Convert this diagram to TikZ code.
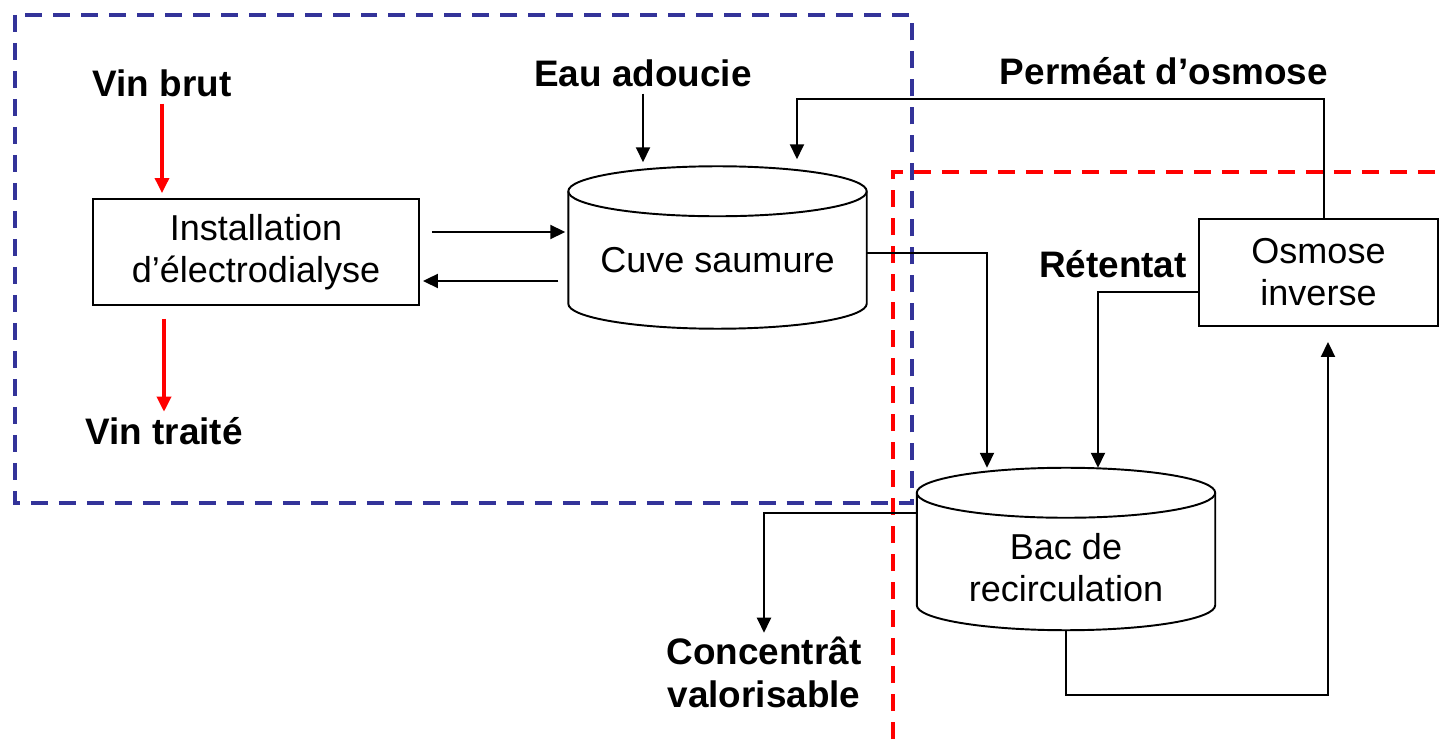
\documentclass[tikz,border=0pt]{standalone}
\usepackage{fontspec}
\setmainfont{Liberation Sans}
\usetikzlibrary{calc,arrows.meta}
\definecolor{frameblue}{RGB}{51,51,153}
\def\tankrx{2.985cm}
\def\drawtank(#1){\draw[tankline] ($(#1.north west)+(0,25)$) -- ($(#1.south west)+(0,-25)$) arc[start angle=180, end angle=360, x radius=\tankrx, y radius=0.5cm] -- ($(#1.north east)+(0,25)$);
	\draw[tankline] ($(#1.north)+(0,25)$) ellipse[x radius=\tankrx, y radius=0.5cm];}
\tikzset{
	txt/.style={font=\fontsize{20.5}{24}\selectfont, align=center},
	lbl/.style={font=\bfseries\fontsize{21}{24.4}\selectfont, align=center},
	box/.style={txt, draw, line width=1.1pt, inner sep=0pt},
	tank/.style={rectangle, inner sep=0pt, outer sep=0pt, minimum width=5.97cm, minimum height=3.25cm},
	tankline/.style={line width=1.1pt},
	flow/.style={line width=1.1pt, -{Triangle[length=0.3cm, width=0.28cm]}},
	wine/.style={flow, red, line width=1.9pt},
	zone/.style={line width=0.08cm, dash pattern=on 0.34cm off 0.22cm}
}

\begin{document}
\begin{tikzpicture}[x=0.02cm, y=-0.02cm]
		%%%%% START %%%%%
		\useasboundingbox (0,0) rectangle (1444,739);
		
		\draw[zone, frameblue] (15,15) rectangle (912,503);
		\draw[zone, red] (893,739) -- (893,172) -- (1444,172);
		
		\node[box, minimum width=6.52cm, minimum height=2.12cm] (ed) at (256,252) {Installation\\d’électrodialyse};
		\node[box, minimum width=4.78cm, minimum height=2.14cm] (osm) at (1318.5,272.5) {Osmose\\inverse};
		
		\node[tank] (cuve) at (717.5,247.5) {};
		\drawtank(cuve)
		\node[txt] (cuvetxt) at (717.5,260) {Cuve saumure};
		
		\node[tank] (bac) at (1066,549) {};
		\drawtank(bac)
		\node[txt] (bactxt) at (1066,568) {Bac de\\recirculation};
		
		\node[lbl, anchor=base] (vinbrut) at (162,97) {Vin brut};
		\node[lbl, anchor=base] (vintraite) at (164,445) {Vin traité};
		\node[lbl, anchor=base] (eau) at (643,87) {Eau adoucie};
		\node[lbl, anchor=base] (permeat) at (1164,85) {Perméat d’osmose};
		\node[lbl, anchor=base] (retentat) at (1113,278) {Rétentat};
		\node[lbl, inner sep=2pt] (conc) at (764,672) {Concentrât\\valorisable};
		
		\draw[wine, shorten >=0.1cm] (vinbrut) -- (vinbrut |- ed.north);
		\draw[wine, shorten <=0.26cm] (vintraite |- ed.south) -- (vintraite);
		
		\draw[flow, shorten <=0.24cm, shorten >=0.06cm] ([yshift=0.4cm]ed.east) -- ([yshift=0.4cm]ed.east -| cuve.west);
		\draw[flow, shorten <=0.2cm, shorten >=0.06cm] ([yshift=-0.58cm]ed.east -| cuve.west) -- ([yshift=-0.58cm]ed.east);
		
		\draw[flow, shorten >=0.08cm] (eau) -- (eau |- cuve.north);
		\draw[flow, shorten >=0.14cm] ([xshift=0.11cm]osm.north) -- ++(0,-119) -| ([xshift=1.59cm]cuve.north);
		
		\draw[flow] ([yshift=-0.11cm]cuve.east) -| ([xshift=-1.58cm]bac.north);
		\draw[flow] ([yshift=-0.39cm]osm.west) -| ([xshift=0.64cm]bac.north);
		\draw[flow, shorten >=0.3cm] (bac.south) -- ++(0,65) -| ([xshift=0.19cm]osm.south);
		\draw[flow] ([yshift=0.72cm]bac.west) -| (conc);
		%%%%% END %%%%%
\end{tikzpicture}
\end{document}
